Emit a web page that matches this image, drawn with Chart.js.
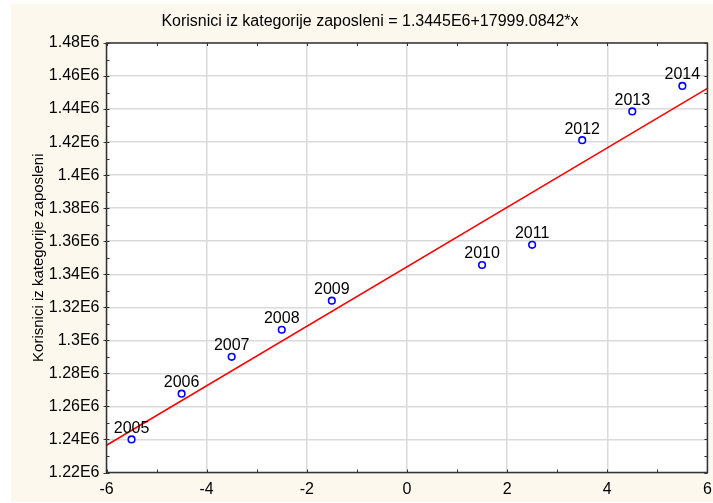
<!DOCTYPE html>
<html><head><meta charset="utf-8">
<script src="https://cdn.jsdelivr.net/npm/chart.js@4/dist/chart.umd.min.js"></script>
<style>html,body{margin:0;padding:0;background:#fff}#wrap{width:713px;height:503px}</style>
</head><body><div id="wrap"><canvas id="c" width="713" height="503"></canvas></div>
<script>
const chartTitle = 'Korisnici iz kategorije zaposleni = 1.3445E6+17999.0842*x';
const yAxisTitle = 'Korisnici iz kategorije zaposleni';
const years = ['2005','2006','2007','2008','2009','2010','2011','2012','2013','2014'];
const xValues = [-5.5,-4.5,-3.5,-2.5,-1.5,1.5,2.5,3.5,4.5,5.5];
const yValues = [1240000,1267700,1290000,1306400,1324000,1345600,1357800,1421200,1438600,1454000];
const fitIntercept = 1344500;
const fitSlope = 17999.0842;
const xRange = [-6, 6];
const yRange = [1220000, 1480000];
const xTickLabels = ['-6','-4','-2','0','2','4','6'];
const yTickLabels = ['1.22E6','1.24E6','1.26E6','1.28E6','1.3E6','1.32E6','1.34E6','1.36E6','1.38E6','1.4E6','1.42E6','1.44E6','1.46E6','1.48E6'];

const FONT = '"Liberation Sans", Arial, sans-serif';
const points = xValues.map((x, i) => ({x, y: yValues[i]}));
const fitLine = xRange.map(x => ({x, y: fitIntercept + fitSlope * x}));

const decor = {
  id: 'decor',
  beforeDraw(chart) {
    const {ctx, chartArea: a} = chart;
    ctx.save();
    ctx.fillStyle = '#fcf8ee';
    ctx.fillRect(11, 4, chart.width - 11, chart.height - 5);
    ctx.fillStyle = '#ffffff';
    ctx.fillRect(a.left, a.top, a.right - a.left, a.bottom - a.top);
    ctx.restore();
  },
  afterDraw(chart) {
    const {ctx, chartArea: a} = chart;
    const xs = chart.scales.x, ys = chart.scales.y;
    ctx.save();
    ctx.strokeStyle = '#333';
    ctx.lineWidth = 1.5;
    ctx.strokeRect(a.left, a.top, a.right - a.left, a.bottom - a.top);
    ctx.lineWidth = 1;
    ctx.beginPath();
    for (let v = yRange[0]; v <= yRange[1] + 1; v += 10000) {
      const py = Math.round(ys.getPixelForValue(v)) + 0.5;
      const major = Math.round((v - yRange[0]) / 10000) % 2 === 0;
      ctx.moveTo(a.left - (major ? 3 : 0), py); ctx.lineTo(a.left + 3, py);
      ctx.moveTo(a.right, py); ctx.lineTo(a.right - 3, py);
    }
    for (let v = xRange[0]; v <= xRange[1]; v += 1) {
      const px = Math.round(xs.getPixelForValue(v)) + 0.5;
      ctx.moveTo(px, a.top); ctx.lineTo(px, a.top + 3);
      ctx.moveTo(px, a.bottom); ctx.lineTo(px, a.bottom - 3);
    }
    ctx.stroke();
    ctx.fillStyle = '#000';
    ctx.font = '16px ' + FONT;
    ctx.textAlign = 'center';
    ctx.textBaseline = 'middle';
    ctx.fillText(chartTitle, 370, 22);
    ctx.restore();
  },
  afterDatasetsDraw(chart) {
    const {ctx} = chart;
    const meta = chart.getDatasetMeta(1);
    ctx.save();
    ctx.fillStyle = '#000';
    ctx.font = '16px ' + FONT;
    ctx.textAlign = 'center';
    ctx.textBaseline = 'middle';
    meta.data.forEach((el, i) => ctx.fillText(years[i], el.x, el.y - 11));
    ctx.restore();
  }
};

new Chart(document.getElementById('c'), {
  type: 'scatter',
  data: {
    datasets: [
      {type: 'line', data: fitLine, borderColor: '#ff0000', borderWidth: 1.5, pointRadius: 0, fill: false, order: 2},
      {data: points, borderColor: '#0000ff', backgroundColor: '#ffffff', borderWidth: 1.6, pointRadius: 3.3, order: 1}
    ]
  },
  options: {
    responsive: false, animation: false, devicePixelRatio: 1,
    layout: {padding: {top: 43, right: 2, bottom: 0, left: 0}},
    plugins: {legend: {display: false}, tooltip: {enabled: false}, title: {display: false}},
    scales: {
      x: {
        type: 'linear', min: xRange[0], max: xRange[1],
        ticks: {stepSize: 2, autoSkip: false, maxRotation: 0, padding: 7, color: '#000', font: {family: FONT, size: 16},
          callback: (v, i) => xTickLabels[i]},
        grid: {color: '#dadada', lineWidth: 1.5, drawTicks: false},
        border: {display: false},
        afterFit(s) { s.height = 30.5; s.paddingLeft = 0; s.paddingRight = 0; }
      },
      y: {
        type: 'linear', min: yRange[0], max: yRange[1],
        ticks: {stepSize: 20000, autoSkip: false, padding: 7, color: '#000', font: {family: FONT, size: 16},
          callback: (v, i) => yTickLabels[i]},
        grid: {color: '#dadada', lineWidth: 1.5, drawTicks: false},
        border: {display: false},
        title: {display: true, text: yAxisTitle, color: '#000', font: {family: FONT, size: 15}, padding: {top: 30, bottom: 0}},
        afterFit(s) { s.width = 106.5; s.paddingTop = 0; s.paddingBottom = 0; }
      }
    }
  },
  plugins: [decor]
});
</script></body></html>
